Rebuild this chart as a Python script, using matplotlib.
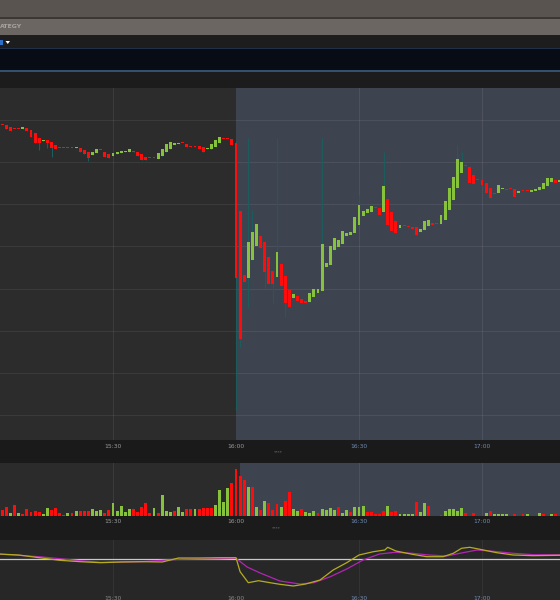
import matplotlib
matplotlib.use('Agg')
import matplotlib.pyplot as plt
from matplotlib.patches import Rectangle, Polygon

# ---- data (minutes relative to 16:00, price in chart units) ----
minutes = list(range(-58, 81))
opens = [287, 290.5, 290, 288, 286, 286, 286, 287, 285, 282, 277, 274, 275, 273, 270, 267, 267, 267, 267, 267,
         267, 265, 263, 260, 262, 265, 263, 261, 259, 261, 262, 263, 263, 264, 263, 261, 258, 257, 257, 256,
         259, 263, 266, 270, 271, 272, 271, 269, 269, 269, 268, 266, 266, 268, 272, 276, 276, 276,
         272, 204, 140, 137, 155, 169, 179, 173, 158, 144, 138, 151, 139, 125, 117, 119, 116, 114, 113, 118,
         122, 124, 148, 150, 165, 168, 171, 179, 180, 182, 190, 199, 202, 203, 207, 207, 203, 216, 203, 194,
         187, 189, 189, 188, 188, 183, 185, 189, 192, 191, 191, 195, 205, 215, 227, 242, 249, 248, 240, 235,
         235, 232, 227, 222, 222, 226, 226, 226, 226, 222, 224, 224, 223, 224, 225, 226, 229, 233, 235, 233, 235]
closes = [293, 290, 286, 284, 286, 286, 288, 284, 278, 272, 272, 275, 272, 267, 266, 267, 267, 267, 267, 268,
          263, 261, 257, 263, 266, 265, 258, 257, 262, 263, 264, 264, 266, 263, 259, 255, 255, 257, 257, 262,
          266, 271, 273, 272, 272, 272, 268, 268, 268, 266, 263, 267, 271, 275, 278, 276, 276, 270,
          137, 76, 133, 173, 183, 191, 167, 143, 131, 131, 163, 129, 112, 108, 121, 114, 112, 112, 122, 126,
          126, 171, 152, 169, 177, 175, 184, 182, 183, 198, 210, 204, 206, 209, 207, 200, 229, 190, 184, 182,
          190, 189, 188, 186, 180, 186, 194, 195, 190, 191, 200, 214, 227, 238, 256, 253, 249, 232, 231, 235,
          230, 222, 217, 221, 230, 227, 225, 226, 218, 224, 224, 224, 225, 226, 228, 232, 237, 237, 232, 235, 258]
highs = [293, 290.5, 290, 288, 286, 286, 288, 287, 285, 282, 277, 275, 275, 273, 270, 267, 267, 267, 267, 268,
         267, 265, 263, 263, 266, 265, 263, 261, 262, 263, 264, 264, 266, 264, 263, 261, 258, 257, 257, 262,
         266, 271, 273, 272, 272, 272, 271, 269, 269, 269, 268, 267, 271, 275, 278, 276, 276, 276,
         274, 204, 140, 277, 205, 191, 179, 173, 158, 144, 277, 151, 139, 125, 121, 119, 116, 114, 122, 126,
         126, 277, 152, 169, 177, 175, 184, 182, 183, 198, 220, 204, 206, 209, 207, 207, 263, 216, 203, 194,
         190, 189, 189, 188, 188, 186, 194, 195, 192, 191, 200, 214, 227, 238, 270, 263, 249, 248, 240, 235,
         235, 232, 227, 222, 230, 227, 226, 226, 226, 224, 224, 224, 225, 226, 228, 232, 237, 237, 235, 235, 258]
lows = [287, 290, 286, 284, 286, 286, 286, 284, 278, 272, 265, 274, 267, 258, 266, 267, 267, 267, 267, 267,
        263, 261, 254, 260, 262, 265, 258, 257, 259, 261, 262, 263, 263, 263, 259, 255, 255, 257, 257, 256,
        259, 263, 266, 270, 271, 272, 268, 268, 268, 266, 263, 266, 266, 268, 272, 276, 276, 270,
        5, 68, 133, 108, 155, 169, 167, 127, 131, 112, 138, 129, 98, 108, 117, 114, 112, 112, 113, 118,
        122, 124, 148, 150, 165, 168, 171, 179, 180, 182, 190, 199, 202, 203, 207, 200, 203, 190, 184, 182,
        187, 189, 188, 186, 180, 183, 185, 189, 190, 191, 191, 195, 205, 215, 227, 242, 249, 232, 231, 235,
        230, 222, 217, 221, 222, 226, 225, 226, 218, 222, 224, 224, 223, 224, 225, 226, 229, 233, 232, 233, 235]

vol_minutes = list(range(-57, 80))
volumes = [6, 8.7, 2.7, 10.7, 2.7, 2, 7, 4, 5.3, 4.3, 2.3, 8.3, 5.7, 7.7, 2.7, 1.3, 3, 2.7, 4.7, 4.7,
           4.7, 5, 6.7, 5, 6, 3, 5.7, 13, 5.3, 9.7, 3.7, 7.3, 6.7, 4, 9, 13.3, 3, 8, 3, 20.7,
           5, 3.7, 5, 9, 4, 7, 6.7, 6.7, 6.7, 8, 8, 8, 10.7, 26, 14, 27.7, 32.7, 46.7,
           40, 36, 28.7, 28.7, 9.3, 5.7, 15, 13, 6, 11.7,
           8.7, 15.3, 24, 6.7, 5.3, 6.7, 4, 3, 4.7, 3, 6.7, 6, 7.7, 6, 8.7, 2.7, 5.7, 4.3, 8.7, 8.7,
           10, 4.3, 4.3, 2, 1.7, 5, 10.3, 3.7, 5, 1.7, 1.7, 1.7, 2.3, 14, 4, 12.7, 10.3, 0.5, 0.5, 0.7,
           5.3, 6.7, 7, 5.3, 8.3, 2.7, 0.5, 3, 0.5, 0.5, 2.7, 5.3, 1.7, 2.3, 1.7, 1.7, 0.5, 2.3, 0.5, 1.7,
           2, 0.5, 0.5, 2.7, 1.7, 0.5, 1.7, 2.3, 0.5]
vol_up = [0, 0, 1, 0, 1, 0, 0, 0, 0, 0, 1, 1, 0, 0, 0, 0, 1, 0, 1, 0,
          0, 0, 1, 1, 1, 0, 0, 1, 1, 1, 1, 1, 0, 0, 0, 0, 0, 1, 0, 1,
          1, 1, 0, 1, 1, 0, 0, 1, 0, 0, 0, 0, 1, 1, 1, 1, 0, 0,
          0, 0, 1, 0, 1, 0, 1, 0, 0, 0,
          1, 0, 0, 1, 1, 0, 1, 1, 1, 0, 1, 1, 1, 1, 0, 1, 1, 0, 1, 1,
          1, 0, 0, 0, 0, 0, 1, 0, 0, 1, 1, 1, 1, 0, 1, 1, 0, 0, 0, 0,
          1, 1, 1, 1, 1, 0, 0, 0, 0, 0, 1, 0, 1, 1, 1, 1, 0, 0, 0, 0,
          1, 0, 0, 1, 0, 0, 1, 0, 0]

fast_t = [-58, -53, -48, -43, -38, -33, -28, -23, -18, -14, -9, -4, 0, 1, 3, 5.5, 8.3, 10.7, 14, 17,
          20.5, 23.7, 27, 30, 33.5, 36.3, 37, 39, 43, 46.5, 50.5, 53, 55, 57, 59.5, 63.6, 67.6, 72.5, 79]
fast_v = [5, 4, 1.3, -1.3, -2.7, -3.7, -3, -2.7, -3, 1, 1, 1.3, 1.3, -12.7, -23.7, -21.7, -23.7, -25.3, -27, -25,
          -21, -11, -3.7, 4, 7.3, 9, 11.7, 8, 4.7, 2.3, 2.3, 5.7, 10.7, 11.7, 9.7, 6.3, 4, 3.3, 3.7]
slow_t = [-58, -48, -38, -33, -23, -14, -4, 0, 2.7, 5.9, 10.7, 15.6, 19, 23, 27, 31, 35, 38.8, 43, 47,
          51.4, 54.6, 58.8, 62, 67.6, 72.5, 79]
slow_v = [5, 2.3, -1.7, -3.3, -2.7, -0.3, 0.3, 0.7, -8, -14, -22, -25, -23.7, -17.7, -10, -1, 5, 6.7, 5.7, 4,
          3, 5.7, 9, 8, 5.7, 4.3, 4.3]

tick_minutes = [-30, 0, 30, 60]
tick_labels = ['15:30', '16:00', '16:30', '17:00']
price_grid = [0, 42, 84, 126, 169, 211, 253, 295]

# ---- layout helpers (pixel boxes, y from top) ----
W, H = 560, 600
PX_PER_MIN = 4.1
X0 = 236  # pixel of 16:00
fig = plt.figure(figsize=(W / 100, H / 100), dpi=100)
fig.patch.set_facecolor('#1c1c1c')

bg = fig.add_axes([0, 0, 1, 1])
bg.set_xlim(0, W)
bg.set_ylim(H, 0)
bg.axis('off')


def band(y0, y1, color, x0=0, x1=W):
    bg.add_patch(Rectangle((x0, y0), x1 - x0, y1 - y0, color=color, lw=0))


band(0, 17, '#5a5450')
band(17, 19, '#3b3734')
band(19, 35, '#6b6662')
band(35, 48, '#1d1d1d')
band(48, 71, '#080c14')
band(48, 49, '#1f3048')
band(70, 72, '#33506e')
band(72, 88, '#1c1c1c')
band(440, 463, '#1a1a1a')
band(516, 540, '#1b1b1b')
bg.text(0, 27, 'ATEGY', color='#a8a39e', fontsize=4.5, fontweight='bold', va='center', ha='left')
bg.add_patch(Rectangle((0, 40), 2.5, 4.5, color='#2f6fc8', lw=0))
bg.add_patch(Polygon([[5.5, 41], [10, 41], [7.75, 44]], closed=True, color='white', lw=0))


def px_axes(x0, y0, x1, y1):
    ax = fig.add_axes([x0 / W, 1 - y1 / H, (x1 - x0) / W, (y1 - y0) / H])
    ax.set_xlim((x0 - X0) / PX_PER_MIN, (x1 - X0) / PX_PER_MIN)
    for s in ax.spines.values():
        s.set_visible(False)
    ax.set_xticks([])
    ax.set_yticks([])
    return ax


RED = '#ff0d0d'
GREEN = '#86c23c'
WICK = '#1d5c5c'
LEFT_BG = '#2c2c2c'
RIGHT_BG = '#3e4350'

# ---- main candle chart ----
ax = px_axes(0, 88, W, 440)
ax.set_facecolor(LEFT_BG)
ax.set_ylim(-25, 327)
ax.axvspan(0, 90, color=RIGHT_BG, lw=0, zorder=0)
for g in price_grid:
    ax.axhline(g, color='white', alpha=0.07, lw=0.8, zorder=1)
for t in [-30, 30, 60]:
    ax.axvline(t, color='white', alpha=0.08, lw=0.8, zorder=1)

colors = [GREEN if c > o else RED for o, c in zip(opens, closes)]
ax.vlines(minutes, lows, highs, color=WICK, lw=0.8, zorder=2)
bottoms = [min(o, c) for o, c in zip(opens, closes)]
heights = [max(abs(c - o), 1.2) for o, c in zip(opens, closes)]
ax.bar(minutes, heights, bottom=bottoms, width=0.7, color=colors, lw=0, zorder=3)

# time labels under main chart
for t, lab in zip(tick_minutes, tick_labels):
    col = '#6f8db5' if t > 0 else '#9a9a9a'
    bg.text(X0 + t * PX_PER_MIN, 446.5, lab, color=col, fontsize=4.3, ha='center', va='center')
bg.text(278, 452.5, '****', color='#7a7a7a', fontsize=3.2, ha='center', va='center')

# ---- volume panel ----
av = px_axes(0, 463, W, 516)
av.set_facecolor('#2b2b2b')
av.set_ylim(0, 53)
av.axvspan(1, 90, color=RIGHT_BG, lw=0, zorder=0)
for t in [-30, 30, 60]:
    av.axvline(t, color='white', alpha=0.08, lw=0.8, zorder=1)
vcolors = [GREEN if u else RED for u in vol_up]
av.bar(vol_minutes, volumes, width=0.7, color=vcolors, lw=0, zorder=3)
for t, lab in zip(tick_minutes, tick_labels):
    col = '#6f8db5' if t > 0 else '#9a9a9a'
    bg.text(X0 + t * PX_PER_MIN, 521.5, lab, color=col, fontsize=4.3, ha='center', va='center')
bg.text(276, 528, '****', color='#7a7a7a', fontsize=3.2, ha='center', va='center')

# ---- oscillator panel ----
ao = px_axes(0, 540, W, 600)
ao.set_facecolor('#272727')
ao.set_ylim(-41, 19)
for t in [-30, 30, 60]:
    ao.axvline(t, color='white', alpha=0.06, lw=0.8, zorder=1)
ao.axhline(0, color='#c9c9c9', lw=0.9, zorder=2)
ao.plot(slow_t, slow_v, color='#b424b4', lw=0.9, zorder=3)
ao.plot(fast_t, fast_v, color='#b5ad1f', lw=0.9, zorder=4)
for t, lab in zip(tick_minutes, tick_labels):
    col = '#6f8db5' if t > 0 else '#8a8a8a'
    ao.text(t, -39, lab, color=col, fontsize=4.3, ha='center', va='center')

fig.savefig('out.png', dpi=100)
